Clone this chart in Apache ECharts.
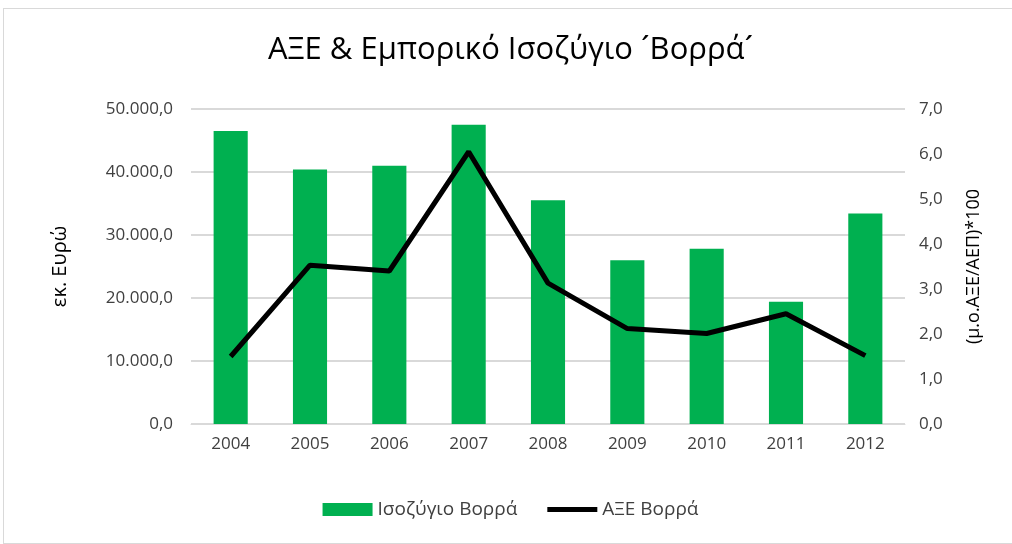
<!DOCTYPE html>
<html>
<head>
<meta charset="utf-8">
<script src="https://cdn.jsdelivr.net/npm/echarts@6/dist/echarts.min.js"></script>
<style>
  html, body { margin: 0; padding: 0; background: #fff; overflow: hidden; }
  #chart { position: absolute; left: 3px; top: 8px; width: 1015px; height: 536px; border: 1px solid #d9d9d9; box-sizing: border-box; }
</style>
</head>
<body>
<div id="chart"></div>
<script>
const years = ['2004', '2005', '2006', '2007', '2008', '2009', '2010', '2011', '2012'];
const balance = [46500, 40400, 41000, 47500, 35500, 26000, 27800, 19400, 33400];
const fdi = [1.50, 3.53, 3.40, 6.05, 3.13, 2.12, 2.01, 2.45, 1.52];

const fontFamily = '"Open Sans", "Noto Sans", sans-serif';

const fmt = (v, d) => {
  const parts = v.toFixed(d).split('.');
  parts[0] = parts[0].replace(/\B(?=(\d{3})+(?!\d))/g, '.');
  return parts.join(',');
};

const chart = echarts.init(document.getElementById('chart'));
chart.setOption({
  animation: false,
  textStyle: { fontFamily },
  title: {
    text: 'ΑΞΕ & Εμπορικό Ισοζύγιο ´Βορρά´',
    left: 'center',
    top: 21,
    textStyle: { fontFamily, fontSize: 31, fontWeight: 'normal', color: '#000' }
  },
  legend: {
    bottom: 19,
    left: 'center',
    itemGap: 30,
    itemWidth: 50,
    itemHeight: 13,
    textStyle: { fontFamily, fontSize: 19, color: '#404040' },
    data: [
      { name: 'Ισοζύγιο Βορρά', icon: 'rect' },
      { name: 'ΑΞΕ Βορρά', icon: 'path://M0,0 L50,0 L50,5 L0,5 Z' }
    ]
  },
  grid: { left: 187, right: 112, top: 100, bottom: 119 },
  xAxis: {
    type: 'category',
    data: years,
    axisTick: { show: false },
    axisLine: { lineStyle: { color: '#d9d9d9', width: 1 } },
    axisLabel: { color: '#404040', fontSize: 17, margin: 12 }
  },
  yAxis: [
    {
      type: 'value',
      min: 0, max: 50000, interval: 10000,
      name: 'εκ. Ευρώ',
      nameLocation: 'middle',
      nameRotate: 90,
      nameGap: 121,
      nameTextStyle: { fontSize: 20, color: '#000' },
      axisLine: { show: false },
      axisTick: { show: false },
      axisLabel: { color: '#404040', fontSize: 17, margin: 18, formatter: v => fmt(v, 1) },
      splitLine: { lineStyle: { color: '#d9d9d9', width: 2 } }
    },
    {
      type: 'value',
      min: 0, max: 7, interval: 1,
      name: '(μ.ο.ΑΞΕ/ΑΕΠ)*100',
      nameLocation: 'middle',
      nameRotate: 90,
      nameGap: 60,
      nameTextStyle: { fontSize: 18, color: '#000' },
      axisLine: { show: false },
      axisTick: { show: false },
      axisLabel: { color: '#404040', fontSize: 17, margin: 14, formatter: v => fmt(v, 1) },
      splitLine: { show: false }
    }
  ],
  series: [
    {
      name: 'Ισοζύγιο Βορρά',
      type: 'bar',
      data: balance,
      barWidth: '43%',
      itemStyle: { color: '#00b050' }
    },
    {
      name: 'ΑΞΕ Βορρά',
      type: 'line',
      yAxisIndex: 1,
      data: fdi,
      symbol: 'none',
      lineStyle: { color: '#000', width: 5 },
      itemStyle: { color: '#000' }
    }
  ]
});
</script>
</body>
</html>
